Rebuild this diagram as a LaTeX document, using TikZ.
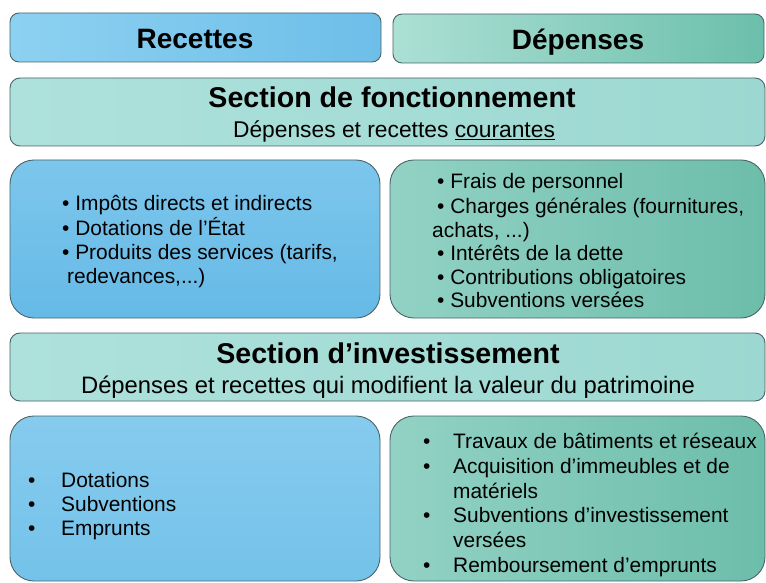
\documentclass[tikz,border=0pt]{standalone}
\usepackage{fontspec}
\setmainfont{Liberation Sans}
\definecolor{edge}{HTML}{4A6468}
\definecolor{blueA}{HTML}{8DD1F1}
\definecolor{blueB}{HTML}{6DBEE9}
\definecolor{greenA}{HTML}{ACE0D4}
\definecolor{greenB}{HTML}{6CBFAC}
\definecolor{secA}{HTML}{AEE1DC}
\definecolor{secB}{HTML}{9CD8D1}
\definecolor{midBA}{HTML}{7CC6EC}
\definecolor{midBB}{HTML}{66BAE7}
\definecolor{botBA}{HTML}{86CBEE}
\definecolor{botBB}{HTML}{74C2EA}
\definecolor{midGA}{HTML}{92D2C4}
\definecolor{midGB}{HTML}{6DBDAB}
\begin{document}
\begin{tikzpicture}[x=1pt,y=-1pt,
  box/.style={draw=edge, line width=0.9pt},
  headtxt/.style={inner sep=0pt, anchor=base, font=\fontsize{28}{32}\selectfont\bfseries},
  sectitle/.style={inner sep=0pt, anchor=base, font=\fontsize{28.6}{32}\selectfont\bfseries},
  secsub/.style={inner sep=0pt, anchor=base, font=\fontsize{22.8}{26}\selectfont},
  item/.style={inner sep=0pt, anchor=base west, font=\fontsize{20.9}{24}\selectfont},
]
\useasboundingbox (0,0) rectangle (766,583);
\fill[white] (0,0) rectangle (766,583);

% boxes
\path[box, rounded corners=9pt, left color=blueA, right color=blueB] (10,13) rectangle (381,62);
\path[box, rounded corners=9pt, left color=greenA, right color=greenB] (393,14) rectangle (764,63);
\path[box, rounded corners=10pt, left color=secA, right color=secB] (10,78) rectangle (765,146);
\path[box, rounded corners=24pt, top color=midBA, bottom color=midBB] (10,160) rectangle (380,318);
\path[box, rounded corners=24pt, left color=midGA, right color=midGB] (390,160) rectangle (765,318);
\path[box, rounded corners=10pt, left color=secA, right color=secB] (10,333) rectangle (765,401);
\path[box, rounded corners=24pt, top color=botBA, bottom color=botBB] (10,416) rectangle (380,581);
\path[box, rounded corners=24pt, left color=midGA, right color=midGB] (390,416) rectangle (765,581);

% headers
\node[headtxt] (rec) at (195,49) {Recettes};
\node[headtxt] (dep) at (578,50) {Dépenses};

% section fonctionnement
\node[sectitle] (sf) at (392,108) {Section de fonctionnement};
\node[secsub] (sfs) at (394,138) {Dépenses et recettes \underline{courantes}};

% middle left
\node[item] (ml1) at (62,211) {• Impôts directs et indirects};
\node[item] (ml2) at (62,235) {• Dotations de l'État};
\node[item] (ml3) at (62,259) {• Produits des services (tarifs,};
\node[item] (ml4) at (67,283) {redevances,...)};

% middle right
\node[item] (mr1) at (437,189) {• Frais de personnel};
\node[item] (mr2) at (437,213) {• Charges générales (fournitures,};
\node[item] (mr3) at (432,237) {achats, ...)};
\node[item] (mr4) at (437,260) {• Intérêts de la dette};
\node[item] (mr5) at (437,284) {• Contributions obligatoires};
\node[item] (mr6) at (437,307) {• Subventions versées};

% section investissement
\node[sectitle] (si) at (388,363) {Section d’investissement};
\node[secsub, font=\fontsize{23.8}{27}\selectfont] (sis) at (388,393) {Dépenses et recettes qui modifient la valeur du patrimoine};

% bottom left
\node[item] (bl1b) at (28,487) {•};
\node[item] (bl1) at (61,487) {Dotations};
\node[item] (bl2b) at (28,511) {•};
\node[item] (bl2) at (61,511) {Subventions};
\node[item] (bl3b) at (28,535) {•};
\node[item] (bl3) at (61,535) {Emprunts};

% bottom right
\node[item] (br1b) at (423,448) {•};
\node[item] (br1) at (453,448) {Travaux de bâtiments et réseaux};
\node[item] (br2b) at (423,473) {•};
\node[item] (br2) at (453,473) {Acquisition d'immeubles et de};
\node[item] (br3) at (453,498) {matériels};
\node[item] (br4b) at (423,522) {•};
\node[item] (br4) at (453,522) {Subventions d'investissement};
\node[item] (br5) at (453,547) {versées};
\node[item] (br6b) at (423,572) {•};
\node[item] (br6) at (453,572) {Remboursement d'emprunts};
\end{tikzpicture}
\end{document}
